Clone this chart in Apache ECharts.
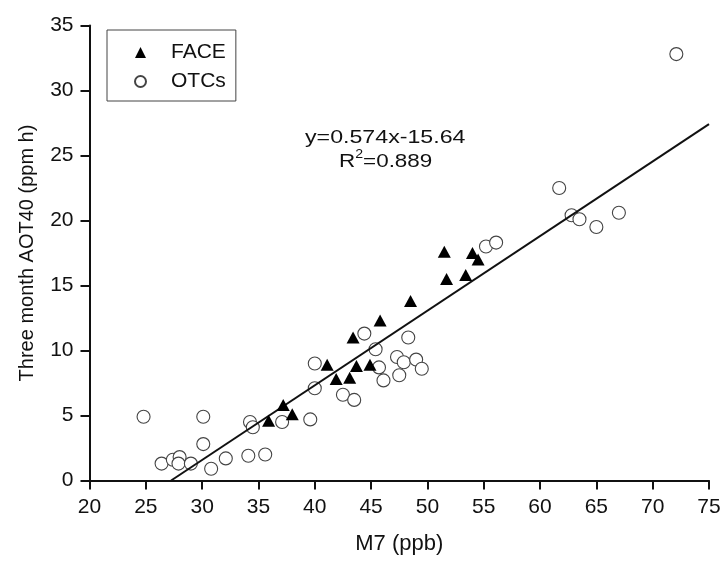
<!DOCTYPE html>
<html>
<head>
<meta charset="utf-8">
<script src="https://cdn.jsdelivr.net/npm/echarts@6/dist/echarts.min.js"></script>
<style>
  html, body { margin: 0; padding: 0; background: #fff; }
  #chart { width: 725px; height: 563px; }
</style>
</head>
<body>
<div id="chart"></div>
<script>
// FACE plots: M7 (ppb) vs three month AOT40 (ppm h)
const faceM7    = [35.9, 37.2, 38.0, 41.1, 41.9, 43.1, 43.7, 44.9, 43.4, 45.8, 48.5, 51.7, 53.4, 51.5, 54.0, 54.5];
const faceAOT40 = [ 4.6,  5.8,  5.1,  8.9,  7.8,  7.9,  8.8,  8.9, 11.0, 12.3, 13.8, 15.5, 15.8, 17.6, 17.5, 17.0];

// Open-top chambers
const otcM7    = [24.8, 26.4, 27.4, 28.0, 27.9, 29.0, 30.1, 30.1, 30.8, 32.1, 34.1, 34.25, 34.5, 35.6, 37.1, 39.6,
                  40.0, 40.0, 42.5, 43.5, 44.4, 45.4, 45.7, 46.1, 47.3, 47.5, 47.9, 48.3, 49.0, 49.5,
                  55.2, 56.1, 61.7, 62.8, 63.5, 65.0, 67.0, 72.1];
const otcAOT40 = [ 4.9,  1.3,  1.6,  1.8,  1.3,  1.3,  4.9,  2.8,  0.9,  1.7,  1.9,  4.5,  4.1,  2.0,  4.5,  4.7,
                   9.0,  7.1,  6.6,  6.2, 11.3, 10.1,  8.7,  7.7,  9.5,  8.1,  9.1, 11.0,  9.3,  8.6,
                  18.0, 18.3, 22.5, 20.4, 20.1, 19.5, 20.6, 32.8];

// Linear regression over all plots
const fitSlope = 0.574;
const fitIntercept = -15.64;
const fitR2 = 0.889;
const fitXRange = [-fitIntercept / fitSlope, 75];

const seriesNames = ['FACE', 'OTCs'];
const xAxisTitle = 'M7 (ppb)';
const yAxisTitle = 'Three month AOT40 (ppm h)';

const pairs = (xs, ys) => xs.map((x, i) => [x, ys[i]]);
const fitLine = fitXRange.map(x => [x, fitSlope * x + fitIntercept]);

const FONT = '"Liberation Sans", Arial, sans-serif';
const INK = '#111';

const chart = echarts.init(document.getElementById('chart'), null, { renderer: 'canvas' });

const axisCommon = {
  type: 'value',
  axisLine: { show: true, lineStyle: { color: INK, width: 2 } },
  axisTick: { show: true, inside: false, length: 9, lineStyle: { color: INK, width: 2 } },
  splitLine: { show: false },
  nameLocation: 'middle',
  axisLabel: { fontFamily: FONT, fontSize: 21, color: INK, margin: 16 }
};

chart.setOption({
  animation: false,
  backgroundColor: '#fff',
  grid: { left: 89.5, right: 16, top: 25.5, bottom: 82.5, containLabel: false },
  xAxis: Object.assign({}, axisCommon, {
    min: 20, max: 75, interval: 5,
    name: xAxisTitle, nameGap: 52,
    nameTextStyle: { fontFamily: FONT, fontSize: 22, color: INK }
  }),
  yAxis: Object.assign({}, axisCommon, {
    min: 0, max: 35, interval: 5,
    name: yAxisTitle, nameGap: 52, nameRotate: 90,
    nameTextStyle: { fontFamily: FONT, fontSize: 20, color: INK }
  }),
  legend: {
    orient: 'vertical',
    left: 107, top: 30,
    padding: [12, 10, 9, 27],
    itemGap: 8,
    itemWidth: 11, itemHeight: 11,
    borderColor: '#444', borderWidth: 1,
    textStyle: { fontFamily: FONT, fontSize: 21, color: INK, lineHeight: 20, padding: [0, 0, 0, 20] },
    data: seriesNames
  },
  graphic: [
    {
      type: 'text', x: 305, y: 128, scaleX: 1.22,
      style: { x: 0, y: 0, text: 'y=' + fitSlope + 'x' + fitIntercept, font: '19px ' + FONT, fill: INK }
    },
    {
      type: 'text', x: 339, y: 149, scaleX: 1.18,
      style: {
        x: 0, y: 0,
        text: '{a|R}{s|2}{a|=' + fitR2 + '}',
        rich: {
          a: { font: '19px ' + FONT, fill: INK, verticalAlign: 'bottom', lineHeight: 22 },
          s: { font: '12px ' + FONT, fill: INK, verticalAlign: 'top', lineHeight: 22, padding: [0, 0, 10, 0] }
        }
      }
    }
  ],
  series: [
    {
      name: 'fit', type: 'line', data: fitLine,
      symbol: 'none', silent: true, z: 3,
      lineStyle: { color: INK, width: 2 }
    },
    {
      name: seriesNames[1], type: 'scatter', data: pairs(otcM7, otcAOT40),
      symbol: 'circle', symbolSize: 13, z: 2,
      itemStyle: { color: '#fff', borderColor: '#444', borderWidth: 1.1, opacity: 1 }
    },
    {
      name: seriesNames[0], type: 'scatter', data: pairs(faceM7, faceAOT40),
      symbol: 'triangle', symbolSize: [13, 12], z: 4,
      itemStyle: { color: '#000', opacity: 1 }
    }
  ]
});
</script>
</body>
</html>
